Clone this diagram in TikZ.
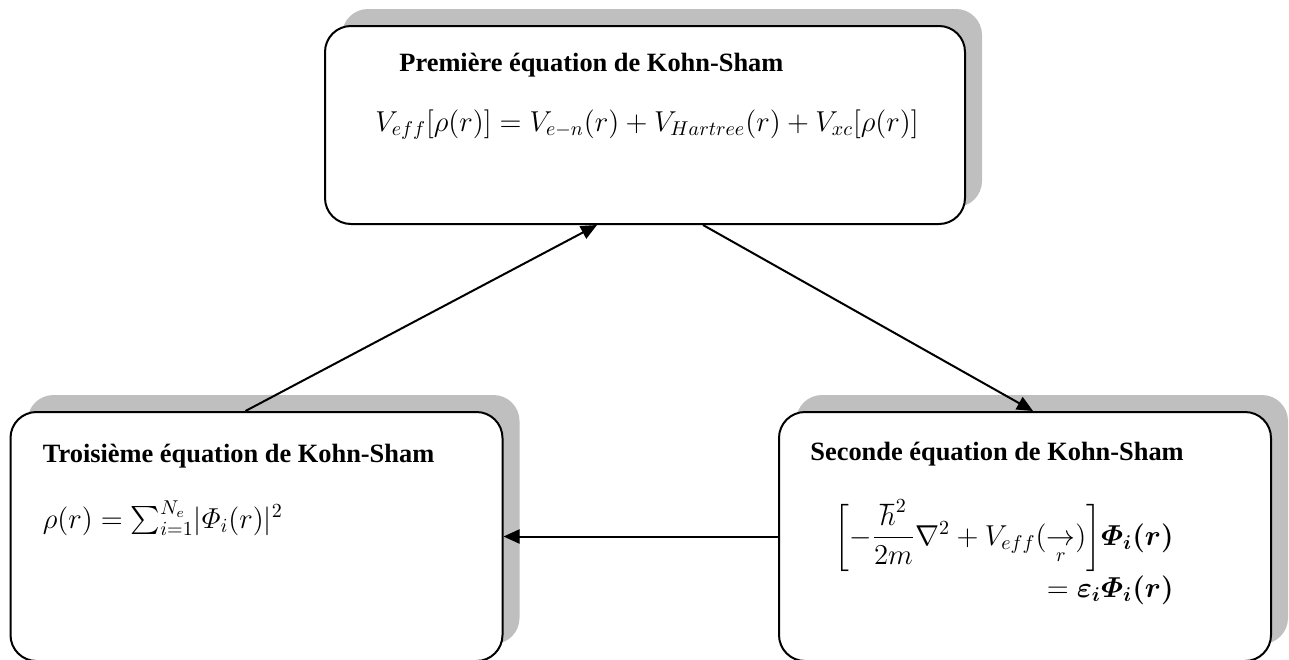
\documentclass[tikz,border=0pt]{standalone}
\usepackage{amsmath,amssymb}
\usepackage{fontspec}
\setmainfont{Liberation Serif}
\usetikzlibrary{positioning,arrows.meta,calc,shadows}
\definecolor{ksshadow}{HTML}{BFBFBF}
\tikzset{
    ksbox/.style={draw=black,line width=1pt,fill=white,rounded corners=13pt,
        drop shadow={shadow xshift=8.5pt,shadow yshift=8.5pt,fill=ksshadow,opacity=1}},
    kstitle/.style={inner sep=0pt,font=\fontsize{13.2}{15}\selectfont\bfseries},
    kseq/.style={inner sep=0pt,font=\fontsize{14}{16}\selectfont},
    ksarrow/.style={draw,line width=1pt,-{Triangle[length=8pt,width=7pt]}},
}

\begin{document}
\begin{tikzpicture}[x=0.5pt,y=-0.5pt]
    \useasboundingbox (0,0) rectangle (1289,659);
    % the three boxes
    \node[ksbox,minimum width=320pt,minimum height=99pt] (first) at (645,125) {};
    \node[ksbox,minimum width=246pt,minimum height=124.5pt] (third) at (256.5,536.5) {};
    \node[ksbox,minimum width=246pt,minimum height=124.5pt] (second) at (1025,536.5) {};

    % texts
    \node[kstitle,anchor=base west] (firsttitle) at ($(first.north west)+(75,46)$) {Première équation de Kohn-Sham};
    \node[kseq,anchor=base] (firsteq) at ($(first.north)+(2,106)$)
        {$V_{eff}[\rho(r)] = V_{e-n}(r) + V_{Hartree}(r) + V_{xc}[\rho(r)]$};
    \node[kstitle,anchor=base west] (thirdtitle) at ($(third.north west)+(33,51)$) {Troisième équation de Kohn-Sham};
    \node[kseq,anchor=base west] (thirdeq) at ($(third.north west)+(33,117)$)
        {$\rho(r) = \sum_{i=1}^{N_e}\lvert\varPhi_i(r)\rvert^2$};
    \node[kstitle,anchor=base west] (secondtitle) at ($(second.north west)+(32,49)$) {Seconde équation de Kohn-Sham};
    \node[kseq,anchor=base east] (secondeqa) at ($(second.north west)+(396,134)$)
        {$\biggl[-\dfrac{\hbar^2}{2m}\nabla^2 + V_{eff}(\underset{r}{\rightarrow})\biggr]\boldsymbol{\varPhi_i(r)}$};
    \node[kseq,anchor=base east] (secondeqb) at ($(second.north west)+(396,186)$)
        {$= \boldsymbol{\varepsilon_i\varPhi_i(r)}$};

    % arrows
    \path[ksarrow] ($(third.north)+(-11,0)$) -- ($(first.south)+(-48,0)$);
    \path[ksarrow] ($(first.south)+(58,0)$) -- ($(second.north)+(8,0)$);
    \path[ksarrow] (second.west) -- (third.east);
\end{tikzpicture}
\end{document}
